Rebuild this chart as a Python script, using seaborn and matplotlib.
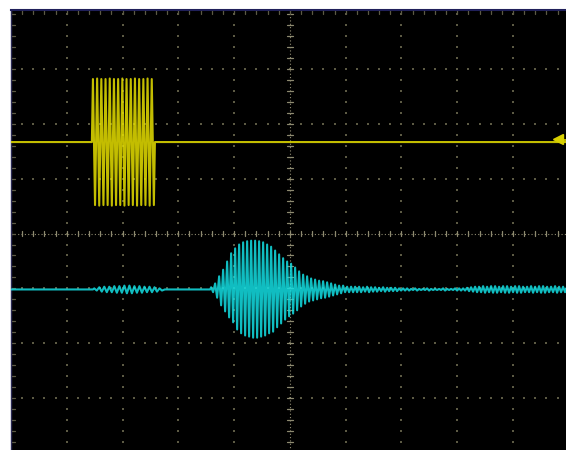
import numpy as np
import pandas as pd
import matplotlib
matplotlib.use("Agg")
import matplotlib.pyplot as plt
import seaborn as sns

# ---- screen layout (divisions) ----
X_DIVS = 10
Y_DIVS = 8

# ---- channel 1 (yellow): gated tone burst ----
ch1_offset = 1.67
ch1_burst_start = 1.45
ch1_burst_end = 2.58
ch1_hi = [2.82, 2.83, 2.82, 2.82, 2.83, 2.82, 2.82, 2.83, 2.82, 2.82, 2.83, 2.82, 2.82, 2.83, 2.82]
ch1_lo = [0.52, 0.51, 0.52, 0.52, 0.51, 0.52, 0.52, 0.51, 0.52, 0.52, 0.51, 0.52, 0.52, 0.51, 0.52]

# ---- channel 2 (cyan): received echo ----
ch2_offset = -1.02
# small crosstalk ripple during the transmit burst
ch2_pre_start = 1.47
ch2_pre_period = 0.09
ch2_pre_amp = [0.02, 0.04, 0.05, 0.05, 0.06, 0.06, 0.07, 0.07, 0.06, 0.06, 0.05, 0.05, 0.04, 0.02]
# main echo packet (upper / lower excursions per cycle)
ch2_echo_start = 3.57
ch2_echo_period = 0.0717
ch2_echo_up = [0.04, 0.11, 0.24, 0.36, 0.51, 0.66, 0.75, 0.82, 0.86, 0.88, 0.89, 0.89,
               0.88, 0.86, 0.82, 0.78, 0.71, 0.64, 0.57, 0.51, 0.47, 0.40, 0.33, 0.27,
               0.24, 0.20, 0.18, 0.16, 0.15, 0.13, 0.11, 0.09, 0.07, 0.07, 0.05, 0.05]
ch2_echo_dn = [0.05, 0.15, 0.29, 0.40, 0.51, 0.60, 0.73, 0.80, 0.84, 0.86, 0.88, 0.88,
               0.86, 0.84, 0.80, 0.77, 0.69, 0.62, 0.55, 0.49, 0.44, 0.38, 0.31, 0.26,
               0.22, 0.20, 0.18, 0.16, 0.15, 0.13, 0.11, 0.09, 0.07, 0.05, 0.05, 0.05]
# residual ringing after the packet
ch2_tail_period = 0.0717
ch2_tail_amp = [0.05, 0.05, 0.04, 0.05, 0.04, 0.04, 0.03, 0.04, 0.03, 0.03, 0.03, 0.02, 0.02,
                0.02, 0.01, 0.02, 0.01, 0.01, 0.02, 0.01, 0.01, 0.01, 0.02, 0.01, 0.01,
                0.02, 0.02, 0.02, 0.03,
                0.04, 0.05, 0.05, 0.06, 0.05, 0.06, 0.06, 0.05, 0.06, 0.06, 0.05, 0.06,
                0.06, 0.05, 0.05, 0.06, 0.05, 0.06, 0.06, 0.05, 0.05, 0.06, 0.05, 0.05, 0.05]

X_END = 9.95


def oscillation(t0, period, up, dn, base):
    """Trace samples through the listed positive/negative peaks of each cycle."""
    t, v = [], []
    for i, (a, b) in enumerate(zip(up, dn)):
        t += [t0 + period * (i + 0.25), t0 + period * (i + 0.75)]
        v += [base + a, base - b]
    return t, v


# channel 1 trace
ch1_period = (ch1_burst_end - ch1_burst_start) / len(ch1_hi)
bt, bv = [], []
for i, (h, l) in enumerate(zip(ch1_hi, ch1_lo)):
    bt += [ch1_burst_start + ch1_period * (i + 0.25), ch1_burst_start + ch1_period * (i + 0.75)]
    bv += [h, l]
ch1_t = [0.0, ch1_burst_start] + bt + [ch1_burst_end, X_END]
ch1_v = [ch1_offset, ch1_offset] + bv + [ch1_offset, ch1_offset]

# channel 2 trace
pt, pv = oscillation(ch2_pre_start, ch2_pre_period, ch2_pre_amp, ch2_pre_amp, ch2_offset)
et, ev = oscillation(ch2_echo_start, ch2_echo_period, ch2_echo_up, ch2_echo_dn, ch2_offset)
tail_start = ch2_echo_start + ch2_echo_period * len(ch2_echo_up)
tt, tv = oscillation(tail_start, ch2_tail_period, ch2_tail_amp, ch2_tail_amp, ch2_offset)
ch2_t = [0.0, ch2_pre_start] + pt + [pt[-1] + 0.05, ch2_echo_start] + et + tt + [X_END]
ch2_v = [ch2_offset, ch2_offset] + pv + [ch2_offset, ch2_offset] + ev + tv + [ch2_offset]

df1 = pd.DataFrame({"t": ch1_t, "v": ch1_v})
df2 = pd.DataFrame({"t": ch2_t, "v": ch2_v})

sns.set_style("dark", {"axes.facecolor": "black", "figure.facecolor": "white"})

fig = plt.figure(figsize=(5.66, 4.5), dpi=100)
ax = fig.add_axes([11 / 566, 0.0, 1 - 11 / 566, 1 - 10 / 450])
ax.set_xlim(0, X_END)
ax.set_ylim(-3.95, 4.08)
ax.set_xticks([])
ax.set_yticks([])
ax.grid(False)
for s in ("bottom", "right"):
    ax.spines[s].set_visible(False)
ax.spines["top"].set_color("#20205a")
ax.spines["top"].set_linewidth(1.5)
ax.spines["left"].set_color("#2a2a55")
ax.spines["left"].set_linewidth(1.0)

# ---- graticule ----
grid_col = "#5c5a44"
fine = np.arange(-4, 4.001, 0.2)
fine_x = np.arange(0, 10.001, 0.2)
for k in range(1, X_DIVS):
    if k == 5:
        continue
    ax.scatter(np.full_like(fine, k), fine, s=1.0, marker="s", color=grid_col, linewidths=0, zorder=1)
for k in range(-3, 4):
    if k == 0:
        continue
    ax.scatter(fine_x, np.full_like(fine_x, k), s=1.0, marker="s", color=grid_col, linewidths=0, zorder=1)

ctr_col = "#8e8a70"
ax.plot([0, 10], [0, 0], color=ctr_col, lw=0.8, ls=(0, (1, 2)), zorder=1)
ax.plot([5, 5], [-4, 4.1], color=ctr_col, lw=0.8, ls=(0, (1, 2)), zorder=1)
for x in fine_x:
    ax.plot([x, x], [-0.05, 0.05], color=ctr_col, lw=0.9, zorder=1)
for y in fine:
    ax.plot([4.94, 5.06], [y, y], color=ctr_col, lw=0.9, zorder=1)

# frame tick marks along the left and top edges
for y in fine:
    ax.plot([0, 0.07], [y, y], color=grid_col, lw=0.9, zorder=1)
for x in fine_x:
    ax.plot([x, x], [4.0, 4.08], color=grid_col, lw=0.9, zorder=1)

# ---- traces ----
sns.lineplot(data=df1, x="t", y="v", ax=ax, sort=False, estimator=None,
             color="#e6e000", lw=1.5, alpha=0.85, zorder=3)
sns.lineplot(data=df2, x="t", y="v", ax=ax, sort=False, estimator=None,
             color="#14e0e4", lw=1.5, alpha=0.85, zorder=3)

# channel 1 trigger level marker
ax.plot([9.78, X_END], [ch1_offset + 0.04, ch1_offset + 0.04], color="#d8d000", lw=1.2, zorder=4)
ax.plot([9.80], [ch1_offset + 0.05], marker="<", ms=7, color="#d8d000", zorder=4, clip_on=False)
ax.set_xlabel("")
ax.set_ylabel("")

fig.savefig("out.png", dpi=100, facecolor="white")
